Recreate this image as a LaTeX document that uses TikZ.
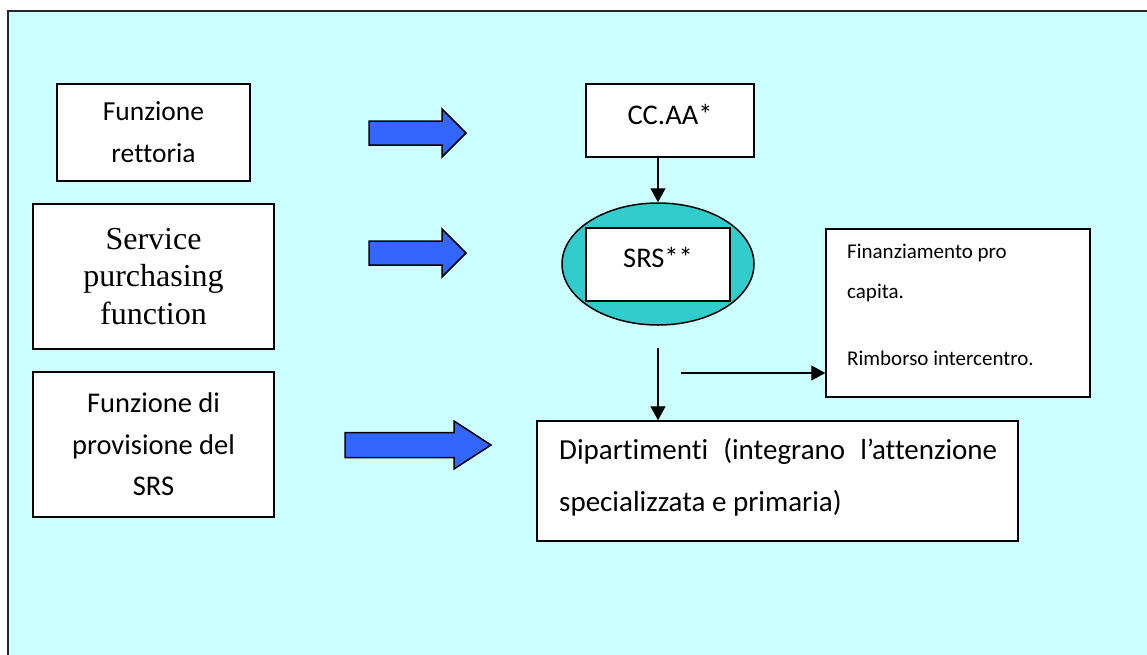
\documentclass[tikz,border=0pt]{standalone}
\usepackage{fontspec}
\setmainfont{Carlito}[Ligatures=NoCommon]
\newfontfamily\timesfont{Liberation Serif}
\usetikzlibrary{arrows.meta,shapes.geometric}
\definecolor{bgcyan}{RGB}{204,255,255}
\definecolor{arrowblue}{RGB}{51,102,255}
\definecolor{tealfill}{RGB}{51,204,204}
\begin{document}
\begin{tikzpicture}[x=1pt,y=-1pt,
  box/.style={draw=black, line width=1.5pt, fill=white, inner sep=0pt, align=center},
  conn/.style={line width=1.4pt, -{Triangle[length=14pt,width=15pt]}},
  barrow/.style={draw=black, line width=1.5pt, fill=arrowblue, line join=miter},
  txt/.style={inner sep=0pt, anchor=west}]
\useasboundingbox (0,0) rectangle (1147,654);
% background frame
\fill[bgcyan] (8,11) rectangle (1152,660);
\draw[line width=2pt, black!85] (8,660) -- (8,11) -- (1152,11);

% left boxes
\node[box, minimum width=193pt, minimum height=97pt,
      font=\fontsize{27.5}{42}\selectfont] (rett) at (153.5,132.5) {Funzione\\rettoria};
\node[box, minimum width=241pt, minimum height=145pt,
      font=\timesfont\fontsize{32}{37.5}\selectfont] (spf) at (153.5,276.5) {Service\\purchasing\\function};
\node[box, minimum width=241pt, minimum height=145pt,
      font=\fontsize{28.5}{41.5}\selectfont] (prov) at (153.5,444.5) {Funzione di\\provisione del\\SRS};

% blue arrows
\draw[barrow] (369,121) -- (442,121) -- (442,109) -- (466,133) -- (442,157) -- (442,145) -- (369,145) -- cycle;
\draw[barrow] (369,241) -- (442,241) -- (442,229) -- (466,253) -- (442,277) -- (442,265) -- (369,265) -- cycle;
\draw[barrow] (345,432.5) -- (454,432.5) -- (454,421) -- (491,445) -- (454,469) -- (454,457.5) -- (345,457.5) -- cycle;

% CC.AA box
\node[box, minimum width=168pt, minimum height=73pt] (ccaa) at (670,120.5) {};
\node[inner sep=0pt, font=\fontsize{28.5}{34}\selectfont] (ccaatxt) at (670,114) {CC.AA*};

% SRS ellipse
\node[ellipse, draw=black, line width=1.5pt, fill=tealfill, minimum width=192pt, minimum height=122pt, inner sep=0pt] (ell) at (658,264) {};
\node[box, minimum width=144pt, minimum height=73pt] (srs) at (658,264.5) {};
\node[inner sep=0pt, font=\fontsize{28.5}{34}\selectfont] (srstxt) at (658,257) {SRS**};

% financing box
\node[box, minimum width=264pt, minimum height=168pt] (fin) at (958,313) {};
\node[txt, font=\fontsize{21}{25}\selectfont] (f1) at (847,253) {Finanziamento pro};
\node[txt, font=\fontsize{21}{25}\selectfont] (f2) at (847,293) {capita.};
\node[txt, font=\fontsize{21}{25}\selectfont] (f3) at (847,358) {Rimborso intercentro.};

% departments box
\node[box, minimum width=481pt, minimum height=120pt] (dip) at (777.5,481) {};
\node[txt, font=\fontsize{29}{35}\selectfont] (d1) at (559,451) {\makebox[438pt][s]{Dipartimenti (integrano l’attenzione}};
\node[txt, font=\fontsize{29}{35}\selectfont] (d2) at (559,503) {specializzata e primaria)};

% connectors
\draw[conn] (ccaa.south -| ell.north) -- (ell.north);
\coordinate (d0) at (658,348);
\draw[conn] (d0) -- (d0 |- dip.north);
\coordinate (h0) at (681,373);
\draw[conn] (h0) -- (h0 -| fin.west);
\end{tikzpicture}
\end{document}
